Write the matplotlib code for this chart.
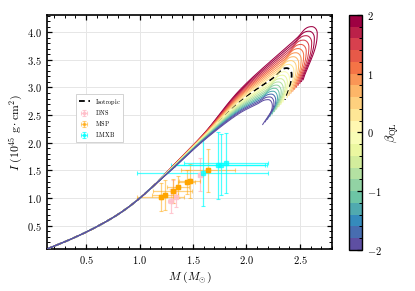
import numpy as np
import matplotlib
matplotlib.use("Agg")
import matplotlib.pyplot as plt
import matplotlib.ticker as mt
from matplotlib.colors import BoundaryNorm

plt.rcParams['mathtext.fontset'] = 'cm'
plt.rcParams['font.family'] = ['DejaVu Serif']

# ---------------- data ----------------
beta = [-2.0, -1.8, -1.6, -1.4, -1.2, -1.0, -0.8, -0.6, -0.4, -0.2, 0.0,
        0.2, 0.4, 0.6, 0.8, 1.0, 1.2, 1.4, 1.6, 1.8, 2.0]

# shared low-mass trunk of all M-I curves
trunk_M = [0.135, 0.30, 0.50, 0.70, 0.85, 1.00, 1.15]
trunk_I = [0.080, 0.209, 0.385, 0.589, 0.772, 0.995, 1.255]

# per-curve values (index follows beta)
I_13 = [1.510, 1.513, 1.517, 1.520, 1.523, 1.526, 1.529, 1.532, 1.535, 1.537, 1.540,
        1.542, 1.545, 1.547, 1.549, 1.551, 1.553, 1.555, 1.557, 1.558, 1.560]
I_16 = [2.040, 2.048, 2.056, 2.063, 2.070, 2.078, 2.084, 2.091, 2.098, 2.104, 2.110,
        2.116, 2.122, 2.127, 2.132, 2.138, 2.142, 2.147, 2.152, 2.156, 2.160]
I_194 = [2.540, 2.561, 2.582, 2.603, 2.624, 2.645, 2.666, 2.687, 2.708, 2.729, 2.750,
         2.771, 2.792, 2.813, 2.834, 2.855, 2.876, 2.897, 2.918, 2.939, 2.960]
M_sh = [2.100, 2.112, 2.124, 2.138, 2.152, 2.166, 2.182, 2.198, 2.214, 2.232, 2.250,
        2.269, 2.288, 2.309, 2.330, 2.351, 2.374, 2.397, 2.420, 2.445, 2.470]
I_sh = [2.700, 2.736, 2.774, 2.815, 2.858, 2.904, 2.952, 3.003, 3.056, 3.112, 3.170,
        3.231, 3.294, 3.360, 3.428, 3.499, 3.572, 3.648, 3.726, 3.807, 3.890]
M_pk = [2.204, 2.218, 2.233, 2.249, 2.265, 2.282, 2.300, 2.318, 2.337, 2.356, 2.376,
        2.397, 2.418, 2.440, 2.462, 2.485, 2.509, 2.533, 2.558, 2.584, 2.610]
I_pk = [2.780, 2.829, 2.880, 2.932, 2.986, 3.043, 3.100, 3.160, 3.222, 3.285, 3.350,
        3.417, 3.486, 3.556, 3.628, 3.703, 3.778, 3.856, 3.936, 4.017, 4.100]
M_rt = [2.242, 2.257, 2.274, 2.290, 2.307, 2.325, 2.344, 2.363, 2.382, 2.402, 2.423,
        2.444, 2.466, 2.489, 2.512, 2.535, 2.559, 2.584, 2.610, 2.635, 2.662]
I_rt = [2.670, 2.717, 2.766, 2.818, 2.871, 2.926, 2.982, 3.041, 3.102, 3.164, 3.229,
        3.295, 3.364, 3.434, 3.506, 3.581, 3.657, 3.735, 3.814, 3.896, 3.980]
M_end = [2.152, 2.175, 2.197, 2.218, 2.240, 2.261, 2.281, 2.302, 2.321, 2.341, 2.360,
         2.379, 2.397, 2.415, 2.433, 2.450, 2.467, 2.483, 2.499, 2.515, 2.530]
I_end = [2.330, 2.379, 2.426, 2.473, 2.520, 2.565, 2.609, 2.653, 2.695, 2.737, 2.778,
         2.818, 2.857, 2.896, 2.933, 2.970, 3.006, 3.040, 3.074, 3.108, 3.140]

# observations: mass, moment of inertia and their errors
dns_M = [1.29, 1.31, 1.34, 1.57]
dns_I = [0.95, 1.12, 1.02, 1.42]
dns_Merr = [0.02, 0.02, 0.02, 0.02]
dns_Ierr = [0.22, 0.20, 0.18, 0.30]

msp_M = [1.20, 1.24, 1.31, 1.36, 1.44, 1.47, 1.64]
msp_I = [1.02, 1.05, 1.13, 1.20, 1.29, 1.31, 1.50]
msp_Merr = [0.22, 0.12, 0.18, 0.10, 0.08, 0.10, 0.25]
msp_Ierr = [0.26, 0.27, 0.22, 0.20, 0.22, 0.30, 0.39]

lmxb_M = [1.59, 1.73, 1.76, 1.81]
lmxb_I = [1.46, 1.59, 1.60, 1.635]
lmxb_Merr = [0.615, 0.44, 0.43, 0.39]
lmxb_Ierr = [0.60, 0.60, 0.55, 0.54]


def catmull_rom(P, n=24, alpha=0.5):
    P = np.asarray(P, float)
    P = np.vstack([2 * P[0] - P[1], P, 2 * P[-1] - P[-2]])
    out = []
    for i in range(1, len(P) - 2):
        p0, p1, p2, p3 = P[i - 1], P[i], P[i + 1], P[i + 2]
        t0 = 0.0
        t1 = t0 + np.linalg.norm(p1 - p0) ** alpha + 1e-9
        t2 = t1 + np.linalg.norm(p2 - p1) ** alpha + 1e-9
        t3 = t2 + np.linalg.norm(p3 - p2) ** alpha + 1e-9
        t = np.linspace(t1, t2, n, endpoint=False)[:, None]
        A1 = (t1 - t) / (t1 - t0) * p0 + (t - t0) / (t1 - t0) * p1
        A2 = (t2 - t) / (t2 - t1) * p1 + (t - t1) / (t2 - t1) * p2
        A3 = (t3 - t) / (t3 - t2) * p2 + (t - t2) / (t3 - t2) * p3
        B1 = (t2 - t) / (t2 - t0) * A1 + (t - t0) / (t2 - t0) * A2
        B2 = (t3 - t) / (t3 - t1) * A2 + (t - t1) / (t3 - t1) * A3
        out.append((t2 - t) / (t2 - t1) * B1 + (t - t1) / (t2 - t1) * B2)
    out.append(P[-2][None, :])
    return np.vstack(out)


def bezier(p0, c1, c2, p1, n=30):
    t = np.linspace(0, 1, n)[:, None]
    return ((1 - t) ** 3 * p0 + 3 * (1 - t) ** 2 * t * c1
            + 3 * (1 - t) * t ** 2 * c2 + t ** 3 * p1)


def curve(k):
    pts = list(zip(trunk_M, trunk_I)) + [(1.3, I_13[k]), (1.6, I_16[k]),
                                         (1.94, I_194[k]), (M_sh[k], I_sh[k])]
    a = catmull_rom(pts)
    S = np.array([M_sh[k], I_sh[k]])
    Q = np.array([1.94, I_194[k]])
    P = np.array([M_pk[k], I_pk[k]])
    R = np.array([M_rt[k], I_rt[k]])
    E = np.array([M_end[k], I_end[k]])
    d = (S - Q) / np.linalg.norm(S - Q)
    L = np.linalg.norm(P - S)
    b1 = bezier(S, S + 0.4 * L * d, np.array([P[0] - 0.5 * (P[0] - S[0]), P[1]]), P)
    b2 = bezier(P, np.array([P[0] + 0.55 * (R[0] - P[0]), P[1]]),
                np.array([R[0], R[1] + 0.55 * (P[1] - R[1])]), R)
    b3 = bezier(R, np.array([R[0], R[1] - 0.4 * (R[1] - E[1])]), E + 0.35 * (R - E), E)
    c = np.vstack([a, b1, b2, b3])
    return c[:, 0], c[:, 1]


# ---------------- figure ----------------
fig = plt.figure(figsize=(4.15, 2.91), dpi=100)
ax = fig.add_axes([0.1133, 0.1443, 0.6867, 0.8042])
cax = fig.add_axes([0.841, 0.1409, 0.031, 0.8076])

cmap = plt.get_cmap('Spectral_r', 20)
bounds = np.linspace(-2, 2, 21)
norm = BoundaryNorm(bounds, cmap.N)

# observations
eb_kw = dict(fmt='s', ms=2.4, elinewidth=0.9, capsize=1.6, capthick=0.8)
h_dns = ax.errorbar(dns_M, dns_I, xerr=dns_Merr, yerr=dns_Ierr, color='pink',
                    alpha=0.85, zorder=2, **eb_kw)
h_msp = ax.errorbar(msp_M, msp_I, xerr=msp_Merr, yerr=msp_Ierr, color='orange',
                    alpha=0.5, zorder=2, **eb_kw)
ax.plot(msp_M, msp_I, 's', ms=2.6, color='orange', zorder=2.5)
h_lmxb = ax.errorbar(lmxb_M, lmxb_I, xerr=lmxb_Merr, yerr=lmxb_Ierr, color='cyan',
                     alpha=0.7, zorder=2, **eb_kw)

# M-I curves
iso_k = beta.index(0.0)
mi, ii = curve(iso_k)
h_iso, = ax.plot(mi, ii, color='black', ls=(0, (3.2, 2.0)), lw=1.3, zorder=3)
for k in range(len(beta) - 1, -1, -1):
    if k == iso_k:
        continue
    m, i = curve(k)
    frac = (beta[k] + 2) / 4.0
    ax.plot(m, i, color=cmap(min(int(frac * 20), 19)), lw=0.75, zorder=4)

ax.set_xlim(0.135, 2.80)
ax.set_ylim(0.08, 4.31)
ax.xaxis.set_major_locator(mt.MultipleLocator(0.5))
ax.xaxis.set_minor_locator(mt.MultipleLocator(0.1))
ax.yaxis.set_major_locator(mt.MultipleLocator(0.5))
ax.yaxis.set_minor_locator(mt.MultipleLocator(0.1))
fmt = mt.FuncFormatter(lambda v, p: r'$\mathbf{%.1f}$' % v)
ax.xaxis.set_major_formatter(fmt)
ax.yaxis.set_major_formatter(fmt)
ax.tick_params(which='both', direction='in', top=True, right=True, labelsize=7.5)
ax.tick_params(which='major', length=3.5, width=0.9)
ax.tick_params(which='minor', length=2, width=0.7)
for s in ax.spines.values():
    s.set_linewidth(1.2)
ax.grid(True, which='major', color='#e6e6e6', lw=0.7, zorder=0)
ax.set_axisbelow(True)

ax.set_xlabel(r'$M\ (M_{\odot})$', fontsize=8.5, labelpad=3)
ax.set_ylabel(r'$I\ (10^{45}\ \mathrm{g}\cdot\mathrm{cm}^2)$', fontsize=8.5, labelpad=2)

leg = ax.legend([h_iso, h_dns, h_msp, h_lmxb],
                [r'$\mathrm{Isotropic}$', r'$\mathrm{DNS}$', r'$\mathrm{MSP}$', r'$\mathrm{LMXB}$'],
                loc='upper left', bbox_to_anchor=(0.102, 0.662), borderaxespad=0,
                fontsize=4.5, handlelength=1.8, handletextpad=0.8, labelspacing=0.3,
                borderpad=0.4, framealpha=1, edgecolor='#cccccc', fancybox=False,
                markerscale=0.8)
leg.get_frame().set_linewidth(0.6)

sm = plt.cm.ScalarMappable(cmap=cmap, norm=norm)
cb = fig.colorbar(sm, cax=cax, ticks=[-2, -1, 0, 1, 2])
cb.ax.yaxis.set_major_formatter(mt.FuncFormatter(lambda v, p: r'$%d$' % round(v)))
cb.ax.yaxis.set_minor_locator(mt.FixedLocator(bounds))
cb.ax.tick_params(which='both', direction='in', labelsize=7.5)
cb.ax.tick_params(which='major', length=3.5, width=0.9)
cb.ax.tick_params(which='minor', length=2, width=0.7)
cb.outline.set_linewidth(1.0)
cb.set_label(r'$\beta_{\rm QL}$', fontsize=9, labelpad=2)

fig.savefig('out.png', dpi=100)
